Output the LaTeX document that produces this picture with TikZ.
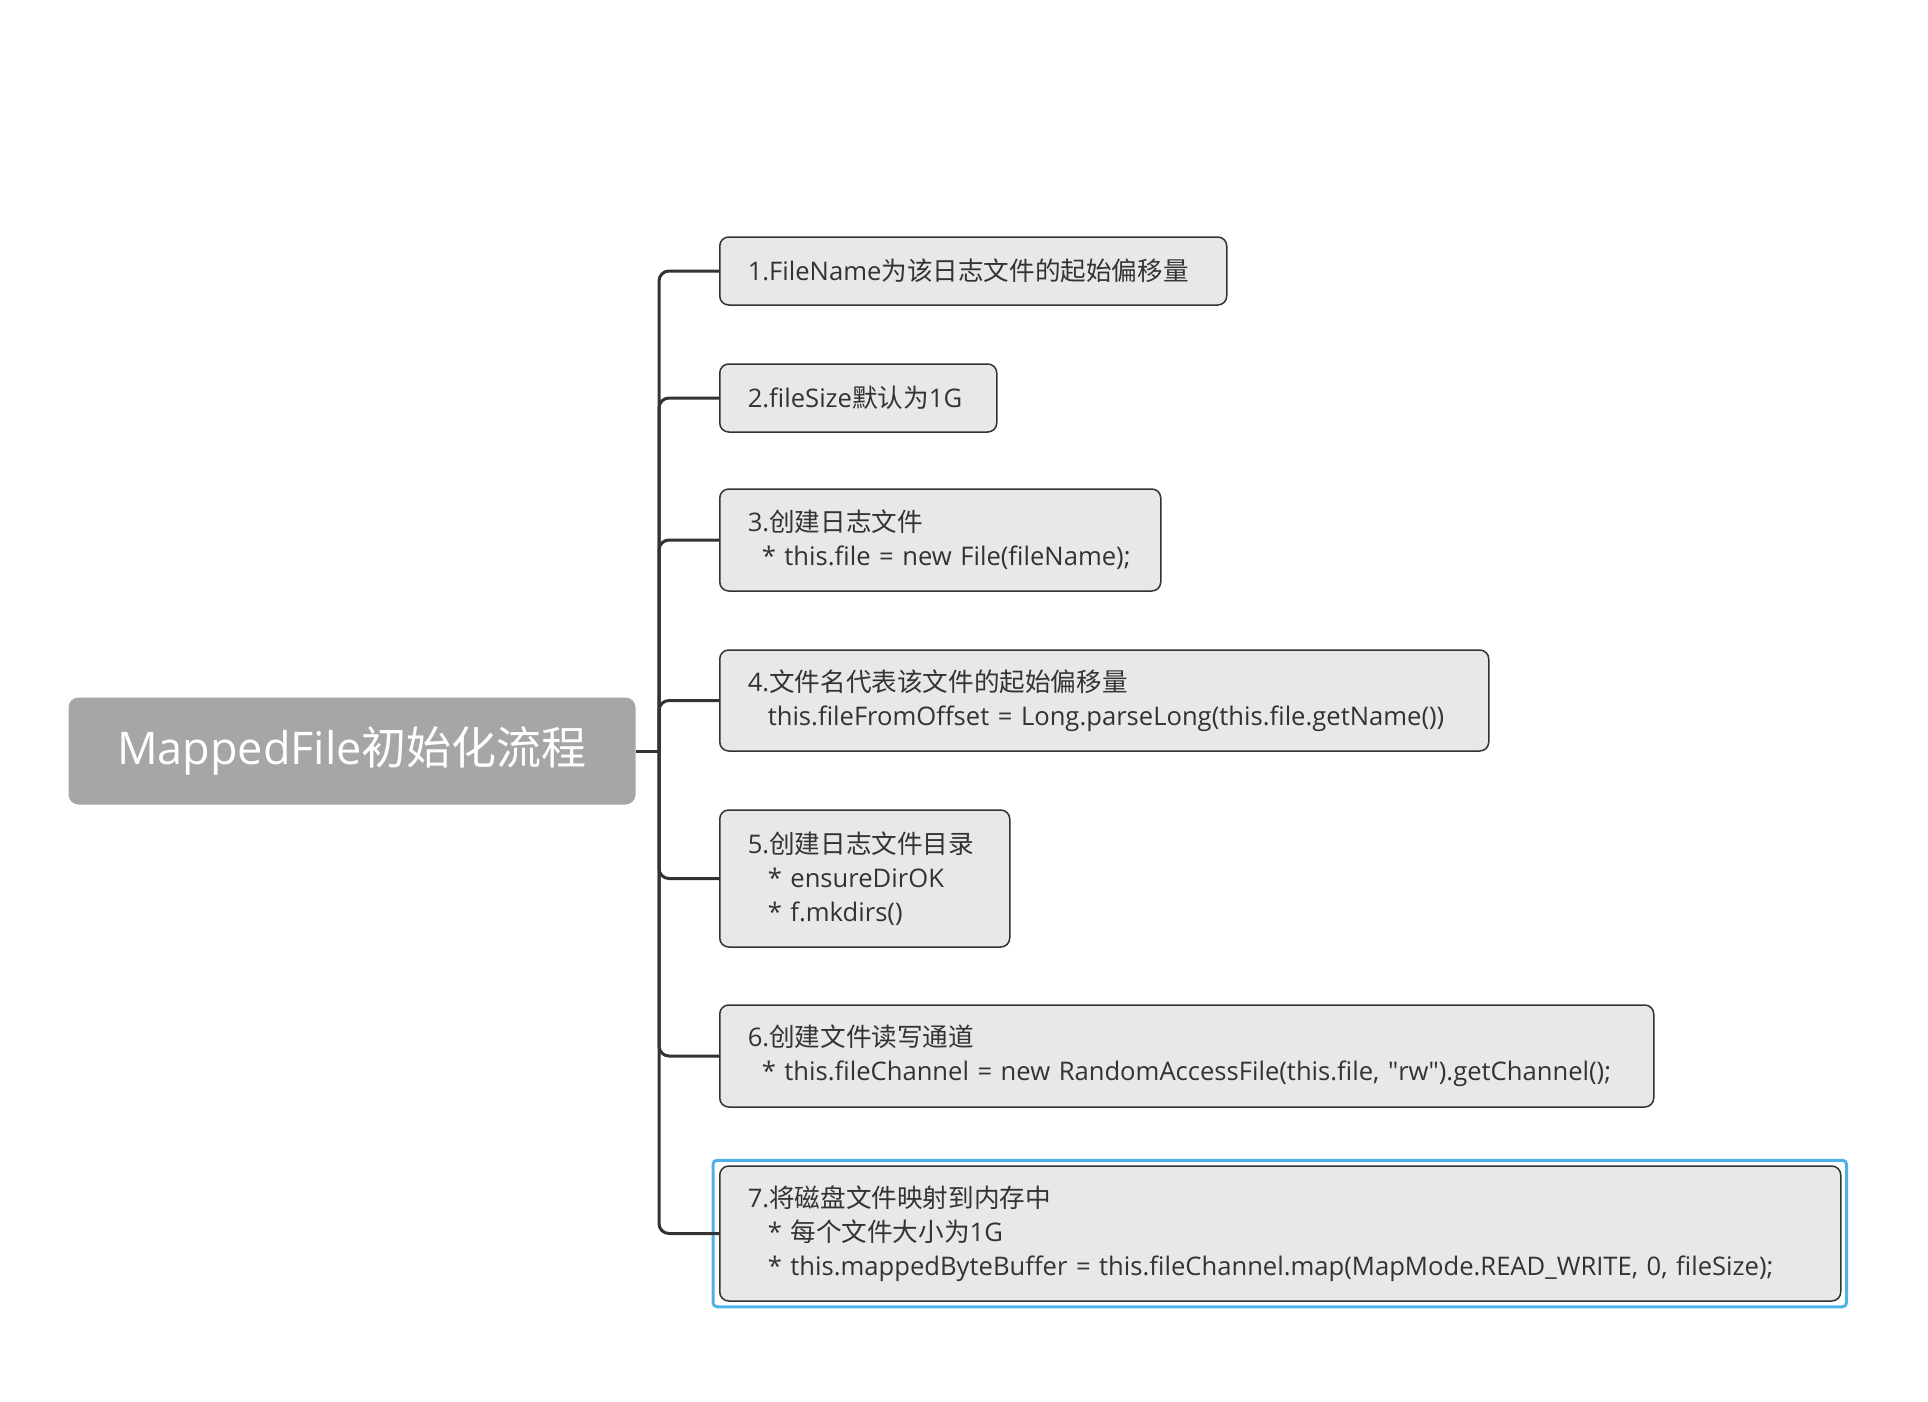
\documentclass[tikz,border=0pt]{standalone}
\usepackage{fontspec}
\setmainfont{Open Sans}
\newfontfamily\cjk{Noto Sans CJK SC}
\newcommand{\zh}[1]{{\cjk #1}}
\usepackage{tikz}
\definecolor{rootgray}{HTML}{A6A6A6}
\definecolor{boxgray}{HTML}{E8E8E8}
\definecolor{linegray}{HTML}{333333}
\definecolor{selblue}{HTML}{4DB3E6}
\tikzset{
  topic/.style={draw=linegray, line width=1.5pt, fill=boxgray, rounded corners=9pt,
    anchor=west, align=left, inner xsep=28pt, text=linegray,
    font=\fontsize{25.6}{34}\selectfont},
  branch/.style={draw=linegray, line width=3pt, rounded corners=10pt},
}
\begin{document}
\begin{tikzpicture}[x=1pt,y=-1pt]
  \useasboundingbox (0,0) rectangle (1928,1402);

  % central topic
  \node[fill=rootgray, rounded corners=10pt, minimum width=567pt, minimum height=107pt,
        text=white, font=\fontsize{45}{54}\selectfont] (root) at (352,751)
        {MappedFile\zh{初始化流程}};
  \coordinate (bus) at (659,751);

  % subtopics
  \node[topic, minimum height=68pt, text width=451pt] (b1) at (719,271)
    {1.FileName\zh{为该日志文件的起始偏移量}};
  \node[topic, minimum height=68pt, text width=221pt] (b2) at (719,398)
    {2.fileSize\zh{默认为}1G};
  \node[topic, minimum height=102pt, text width=385pt] (b3) at (719,540)
    {3.\zh{创建日志文件}\\\hspace{14pt}* this.file = new File(fileName);};
  \node[topic, minimum height=101pt, text width=713pt] (b4) at (719,700.5)
    {4.\zh{文件名代表该文件的起始偏移量}\\\hspace{20pt}this.fileFromOffset = Long.parseLong(this.file.getName())};
  \node[topic, minimum height=137pt, text width=234pt] (b5) at (719,878.5)
    {5.\zh{创建日志文件目录}\\\hspace{20pt}* ensureDirOK\\\hspace{20pt}* f.mkdirs()};
  \node[topic, minimum height=102pt, text width=878pt] (b6) at (719,1056)
    {6.\zh{创建文件读写通道}\\\hspace{14pt}* this.fileChannel = new RandomAccessFile(this.file, \textquotedbl rw\textquotedbl).getChannel();};
  \node[topic, minimum height=135pt, text width=1065pt] (b7) at (719,1233.5)
    {7.\zh{将磁盘文件映射到内存中}\\\hspace{20pt}* \zh{每个文件大小为}1G\\\hspace{20pt}* this.mappedByteBuffer = this.fileChannel.map(MapMode.READ\_WRITE, 0, fileSize);};

  % selection frame
  \draw[selblue, line width=3pt, rounded corners=4pt]
    ([xshift=-6pt,yshift=-5pt]b7.south west) rectangle ([xshift=5pt,yshift=5pt]b7.north east);

  % connectors
  \draw[linegray, line width=3pt] (root.east) -- (bus);
  \foreach \b in {b1,b2,b3,b4,b5,b6,b7}
    \draw[branch] (bus) |- (\b.west);
\end{tikzpicture}
\end{document}
